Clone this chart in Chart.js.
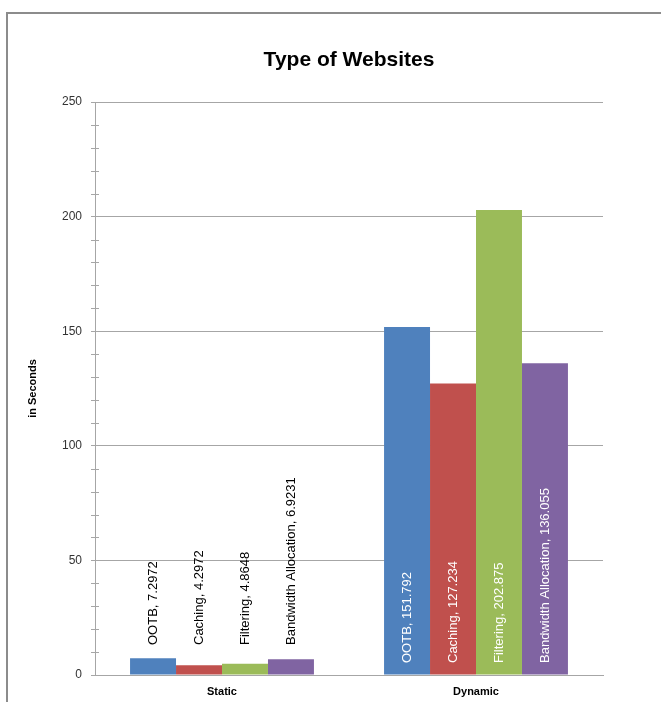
<!DOCTYPE html>
<html>
<head>
<meta charset="utf-8">
<script src="https://cdn.jsdelivr.net/npm/chart.js@4.4.1/dist/chart.umd.min.js"></script>
<style>
  html, body { margin: 0; padding: 0; background: #fff; }
  #wrap { width: 661px; height: 702px; position: relative; }
</style>
</head>
<body>
<div id="wrap"><canvas id="chart"></canvas></div>
<script>
const categories = ['Static', 'Dynamic'];
const seriesNames = ['OOTB', 'Caching', 'Filtering', 'Bandwidth Allocation'];
const ootb = [7.2972, 151.792];
const caching = [4.2972, 127.234];
const filtering = [4.8648, 202.875];
const bandwidth = [6.9231, 136.055];
const colors = ['#4F81BD', '#C0504D', '#9BBB59', '#8064A2'];
const chartTitle = 'Type of Websites';

const FONT = "'Liberation Sans', 'DejaVu Sans', sans-serif";

// frame around the chart (only top and left show in the picture) + title
const framePlugin = {
    id: 'frame',
    beforeDraw(chart) {
        const ctx = chart.ctx;
        ctx.save();
        ctx.strokeStyle = '#8c8c8c';
        ctx.lineWidth = 2;
        ctx.beginPath();
        ctx.moveTo(7, chart.height + 5);
        ctx.lineTo(7, 13);
        ctx.lineTo(chart.width + 5, 13);
        ctx.stroke();

        // title sits centred over the whole frame, not the plot
        ctx.fillStyle = '#000';
        ctx.font = 'bold 21px ' + FONT;
        ctx.textAlign = 'center';
        ctx.textBaseline = 'middle';
        ctx.fillText(chartTitle, 349, 60);
        ctx.restore();
    },
};

// minor tick marks on the value axis
const minorTicks = {
    id: 'minorTicks',
    afterDraw(chart) {
        const y = chart.scales.y;
        const ctx = chart.ctx;
        ctx.save();
        ctx.strokeStyle = '#a6a6a6';
        ctx.lineWidth = 1;
        for (let v = 10; v < y.max; v += 10) {
            if (v % 50 === 0) continue;
            const py = Math.round(y.getPixelForValue(v)) + 0.5;
            ctx.beginPath();
            ctx.moveTo(y.right - 4, py);
            ctx.lineTo(y.right + 4, py);
            ctx.stroke();
        }
        ctx.restore();
    },
};

// rotated data labels: "Series, value"
const barLabels = {
    id: 'barLabels',
    afterDatasetsDraw(chart) {
        const ctx = chart.ctx;
        const base = chart.scales.y.getPixelForValue(0);
        ctx.save();
        ctx.font = '13px ' + FONT;
        ctx.textBaseline = 'middle';
        ctx.textAlign = 'left';
        chart.data.datasets.forEach((ds, i) => {
            chart.getDatasetMeta(i).data.forEach((bar, j) => {
                const text = ds.label + ', ' + ds.data[j];
                const w = ctx.measureText(text).width;
                let y, color;
                if (base - bar.y > w + 20) {
                    y = base - 12;
                    color = '#ffffff';
                } else {
                    y = Math.min(bar.y - 12, base - 30);
                    color = '#000000';
                }
                ctx.save();
                ctx.translate(bar.x, y);
                ctx.rotate(-Math.PI / 2);
                ctx.fillStyle = color;
                ctx.fillText(text, 0, 0);
                ctx.restore();
            });
        });
        ctx.restore();
    },
};

const seriesData = [ootb, caching, filtering, bandwidth];

new Chart(document.getElementById('chart'), {
    type: 'bar',
    data: {
        labels: categories,
        datasets: seriesNames.map((name, i) => ({
            label: name,
            data: seriesData[i],
            backgroundColor: colors[i],
            borderWidth: 0,
            barPercentage: 1,
            categoryPercentage: 0.724,
        })),
    },
    options: {
        responsive: true,
        maintainAspectRatio: false,
        animation: false,
        layout: {
            padding: { left: 0, right: 58, top: 102, bottom: 0 },
        },
        plugins: {
            legend: { display: false },
            tooltip: { enabled: false },
            title: { display: false },
        },
        scales: {
            x: {
                grid: { display: false, drawTicks: false },
                border: { color: '#a6a6a6' },
                ticks: {
                    color: '#000',
                    padding: 10,
                    font: { family: FONT, size: 11, weight: 'bold' },
                },
                afterFit(scale) { scale.height = 27; },
            },
            y: {
                min: 0,
                max: 250,
                ticks: {
                    stepSize: 50,
                    color: '#333',
                    padding: 9,
                    font: { family: FONT, size: 12 },
                },
                grid: { color: '#a6a6a6', tickLength: 4 },
                border: { color: '#a6a6a6' },
                title: {
                    display: true,
                    text: 'in Seconds',
                    color: '#000',
                    font: { family: FONT, size: 11, weight: 'bold' },
                    padding: { top: 26, bottom: 0 },
                },
                afterFit(scale) { scale.width = 95; },
            },
        },
    },
    plugins: [framePlugin, minorTicks, barLabels],
});
</script>
</body>
</html>
